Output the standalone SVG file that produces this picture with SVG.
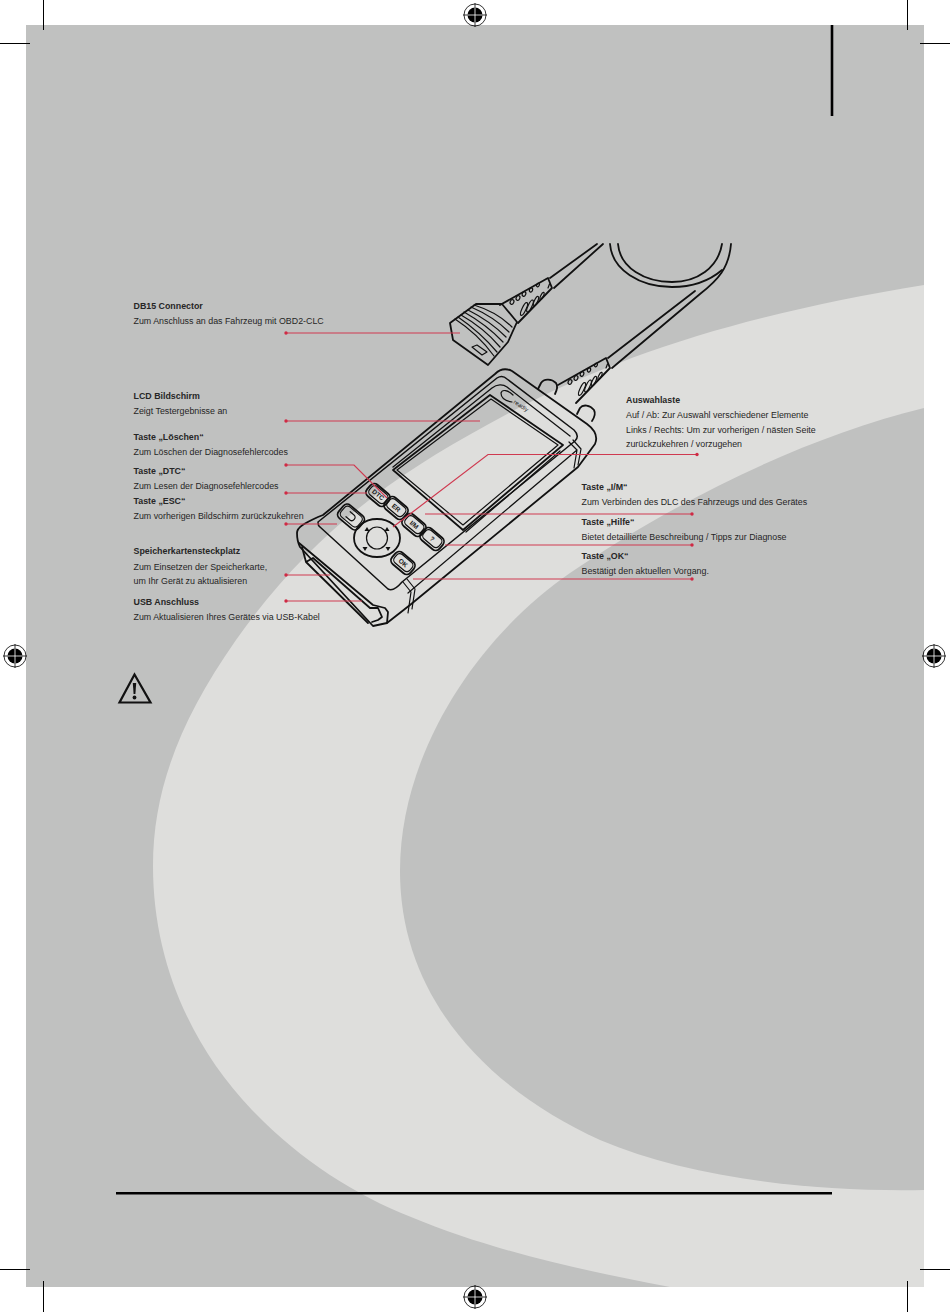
<svg xmlns="http://www.w3.org/2000/svg" xmlns:xlink="http://www.w3.org/1999/xlink" width="950" height="1312" viewBox="0 0 950 1312">
<style>
text{font-family:"Liberation Sans",Arial,sans-serif;font-size:8.85px;fill:#262626}
.t{font-weight:bold}
.k{font-size:6.5px;font-weight:bold;text-anchor:middle;fill:#1a1a1a}
.o{fill:none;stroke:#111;stroke-width:1.8;stroke-linejoin:round;stroke-linecap:round}
.m{fill:none;stroke:#111;stroke-width:1.2;stroke-linejoin:round;stroke-linecap:round}
.r{fill:none;stroke:#cf3a50;stroke-width:1.2}
.d{fill:#cf2a44;stroke:none}
.c{fill:none;stroke:#000;stroke-width:1}
</style>
<defs>
<g id="reg">
<circle r="11" fill="none" stroke="#000" stroke-width=".8"/>
<circle r="7.5" fill="#000"/>
<path d="M-12,0H12M0,-12V12" stroke="#000" stroke-width=".8"/>
<path d="M-7.500,0H7.500M0,-7.500V7.500" stroke="#fff" stroke-width=".8"/>
</g>
<g id="relief">
<path class="o" d="M500,305L548,278L552,288L518,323"/>
<g class="m">
<ellipse cx="512" cy="302" rx="1.800" ry="2.400" transform="rotate(25 512 302)"/>
<ellipse cx="518" cy="298" rx="1.800" ry="2.400" transform="rotate(25 518 298)"/>
<ellipse cx="524" cy="294" rx="1.700" ry="2.300" transform="rotate(25 524 294)"/>
<ellipse cx="531" cy="290" rx="1.500" ry="2.100" transform="rotate(25 531 290)"/>
<ellipse cx="538" cy="285" rx="1.300" ry="2" transform="rotate(25 538 285)"/>
<ellipse cx="524" cy="309" rx="2" ry="7" transform="rotate(25 524 309)"/>
<ellipse cx="530" cy="306" rx="1.900" ry="6.500" transform="rotate(25 530 306)"/>
<ellipse cx="536" cy="301" rx="1.600" ry="5" transform="rotate(25 536 301)"/>
<ellipse cx="542" cy="296" rx="1.300" ry="4" transform="rotate(25 542 296)"/>
<path d="M548,288l1.500,-4"/>
</g>
</g>
</defs>

<g id="page">
<rect x="26" y="25" width="898" height="1262" fill="#c0c1c0"/>
<path fill="#dededc" d="M924,285C760,312 620,350 487,425C390,478 310,535 236,640C180,720 153,790 153,866C153,960 190,1045 252,1110C300,1160 355,1195 411,1217C490,1250 580,1270 670,1287L924,1287Z"/>
<path fill="#c0c1c0" d="M924,408C800,438 670,505 570,573C480,635 400,750 400,871C400,1000 490,1090 600,1140C690,1178 810,1192 924,1190Z"/>
<rect x="830.700" y="25" width="2.600" height="91" fill="#000"/>
<rect x="116" y="1192" width="716" height="2.500" fill="#000"/>
</g>

<g id="marks">
<use xlink:href="#reg" href="#reg" x="475" y="15"/>
<use xlink:href="#reg" href="#reg" x="15" y="656"/>
<use xlink:href="#reg" href="#reg" x="934" y="656"/>
<use xlink:href="#reg" href="#reg" x="475" y="1297"/>
<path class="c" d="M43.500,0V30M0,43.500H30M907.500,0V30M920,43.500H950M0,1269.500H30M920,1269.500H950M43.500,1281V1312M907.500,1281V1312"/>
</g>

<g id="warning">
<path d="M134.500,674.500L119.500,702.500H150.500Z" fill="none" stroke="#111" stroke-width="2.200" stroke-linejoin="miter"/>
<path d="M132.800,683h3.400l-.8,11h-1.800Z" fill="#111"/>
<circle cx="134.500" cy="697.500" r="1.900" fill="#111"/>
</g>

<g id="cables">
<path class="o" d="M550,278L597,244M554,288L603,244"/>
<path class="o" d="M450,323L476,304L502,304L517,322L508,342L488,365L453,340Z"/>
<path class="m" stroke-width="1.500" d="M455,319Q478,334 494,356M458,317Q480,332 497,352M461,315Q484,328 500,347M464,312Q487,325 503,342M468,310Q490,321 506,337M471,307Q494,317 509,332M474,305Q497,312 512,327"/>
<path class="m" d="M472,347L477,345L487,352L482,355Z"/>
<use xlink:href="#relief" href="#relief"/>
<use xlink:href="#relief" href="#relief" x="58" y="80"/>
<path class="o" d="M608,358L695,291M612,368L700,294C718,280 729,268 731,244"/>
<path class="o" d="M610,244C612,270 640,287 672,287C690,287 708,282 722,270M618,244C620,268 645,282 672,282C697,282 718,268 722,244"/>
</g>

<g id="device">
<path class="o" stroke-width="1.500" d="M538,389L541,383C544,378 552,379 556,383C558,386 557,390 555,394M577,414L580,408C583,404 590,405 594,410C596,414 594,418 592,421"/>
<path class="o" d="M297,533C297,527 305,523 318,517L323,515L495,374C500,369 506,368 512,371L587,424C595,430 598,437 595,444L578,467L410,605L387,623L373,626L300,547C297,541 297,537 297,533Z"/>
<path class="o" style="stroke-width:1.500" d="M318,522L497,378C500,376 504,376 507,379L574,430C578,434 578,438 575,441L402,582C397,588 392,591 388,589L320,527C318,526 318,524 318,522Z"/>
<path class="m" d="M408,593L577,450M569,442L577,450L574,468M573,440L581,449L578,465M403,582L411,592L408,613M407,579L415,589L412,609"/>
<path class="o" d="M299,543L373,605L385,608L388,612L387,623"/>
<path class="o" d="M302,547L306,562L368,623M306,562L313,558L370,608L378,608L382,617L378,620L372,622"/>
<path class="o" style="stroke-width:1.300" d="M393,467L492,388C497,384 503,384 507,387L570,436"/>
<path class="o" d="M393,470L490,395L563,445L463,530Z"/>
<path class="m" d="M397,470L491,399L558,445L463,525Z"/>
<path class="m" d="M560,451L466,532"/>
<path class="m" d="M513,395C508,390 502,389 501,393C501,398 506,401 512,402"/>
<text transform="translate(513,403) rotate(33)" style="font-size:6px">readiy</text>
<g id="key-dtc" transform="translate(378,495) rotate(40)"><rect x="-12" y="-7.500" width="24" height="15" rx="5" class="o"/><rect x="-10" y="-6" width="20" height="11" rx="4" class="m"/><text class="k" y="2">DTC</text></g>
<g id="key-er" transform="translate(396,508) rotate(40)"><rect x="-12" y="-7.500" width="24" height="15" rx="5" class="o"/><rect x="-10" y="-6" width="20" height="11" rx="4" class="m"/><text class="k" y="2">ER</text></g>
<g id="key-im" transform="translate(414,525) rotate(40)"><rect x="-12" y="-7.500" width="24" height="15" rx="5" class="o"/><rect x="-10" y="-6" width="20" height="11" rx="4" class="m"/><text class="k" y="2">I/M</text></g>
<g id="key-help" transform="translate(432,539) rotate(40)"><rect x="-12" y="-7.500" width="24" height="15" rx="5" class="o"/><rect x="-10" y="-6" width="20" height="11" rx="4" class="m"/><text class="k" y="2">?</text></g>
<g id="key-ok" transform="translate(403,563) rotate(40)"><rect x="-12" y="-7.500" width="24" height="15" rx="5" class="o"/><rect x="-10" y="-6" width="20" height="11" rx="4" class="m"/><text class="k" y="2">OK</text></g>
<g id="key-back" transform="translate(351,517) rotate(40)"><rect x="-13" y="-8.500" width="26" height="17" rx="5" class="o"/><rect x="-11" y="-7" width="22" height="13" rx="4" class="m"/><path class="m" d="M-4,-3.500H1C5,-3.500 5,3 1,3H-4"/></g>
<g id="dpad">
<ellipse cx="377" cy="538" rx="23" ry="19" class="o"/>
<ellipse cx="377" cy="538" rx="10.500" ry="11" class="m"/>
<path fill="#111" d="M367,527l2.500,4h-5zM387,527l2.500,4h-5zM365,551l-2.500,-4h5zM388,551l-2.500,-4h5z"/>
</g>
</g>

<g id="connectors">
<path class="r" d="M286,333H460"/>
<path class="r" d="M286,421H480"/>
<path class="r" d="M286,465H354L387,498"/>
<path class="r" d="M286,493H367"/>
<path class="r" d="M286,524H337"/>
<path class="r" d="M286,575H330"/>
<path class="r" d="M286,601H362"/>
<path class="r" d="M697,454.500H488L393,527"/>
<path class="r" d="M692,514H425"/>
<path class="r" d="M692,545H445"/>
<path class="r" d="M692,579H413"/>
<g class="d">
<circle cx="286" cy="333" r="1.700"/><circle cx="286" cy="421" r="1.700"/><circle cx="286" cy="465" r="1.700"/><circle cx="286" cy="493" r="1.700"/><circle cx="286" cy="524" r="1.700"/><circle cx="286" cy="575" r="1.700"/><circle cx="286" cy="601" r="1.700"/><circle cx="697" cy="454.500" r="1.700"/><circle cx="692" cy="514" r="1.700"/><circle cx="692" cy="545" r="1.700"/><circle cx="692" cy="579" r="1.700"/>
</g>
</g>

<g id="labels-left">
<text class="t" x="133.500" y="309">DB15 Connector</text>
<text x="133.500" y="324">Zum Anschluss an das Fahrzeug mit OBD2-CLC</text>
<text class="t" x="133.500" y="399">LCD Bildschirm</text>
<text x="133.500" y="414">Zeigt Testergebnisse an</text>
<text class="t" x="133.500" y="440">Taste „Löschen“</text>
<text x="133.500" y="455">Zum Löschen der Diagnosefehlercodes</text>
<text class="t" x="133.500" y="474">Taste „DTC“</text>
<text x="133.500" y="489">Zum Lesen der Diagnosefehlercodes</text>
<text class="t" x="133.500" y="504">Taste „ESC“</text>
<text x="133.500" y="519">Zum vorherigen Bildschirm zurückzukehren</text>
<text class="t" x="133.500" y="554">Speicherkartensteckplatz</text>
<text x="133.500" y="570">Zum Einsetzen der Speicherkarte,</text>
<text x="133.500" y="584">um Ihr Gerät zu aktualisieren</text>
<text class="t" x="133.500" y="605">USB Anschluss</text>
<text x="133.500" y="620">Zum Aktualisieren Ihres Gerätes via USB-Kabel</text>
</g>
<g id="labels-right">
<text class="t" x="626" y="403">Auswahlaste</text>
<text x="626" y="418">Auf / Ab: Zur Auswahl verschiedener Elemente</text>
<text x="626" y="433">Links / Rechts: Um zur vorherigen / nästen Seite</text>
<text x="626" y="447">zurückzukehren / vorzugehen</text>
<text class="t" x="581.500" y="490">Taste „I/M“</text>
<text x="581.500" y="505">Zum Verbinden des DLC des Fahrzeugs und des Gerätes</text>
<text class="t" x="581.500" y="525">Taste „Hilfe“</text>
<text x="581.500" y="540">Bietet detaillierte Beschreibung / Tipps zur Diagnose</text>
<text class="t" x="581.500" y="559">Taste „OK“</text>
<text x="581.500" y="574">Bestätigt den aktuellen Vorgang.</text>
</g>
</svg>
